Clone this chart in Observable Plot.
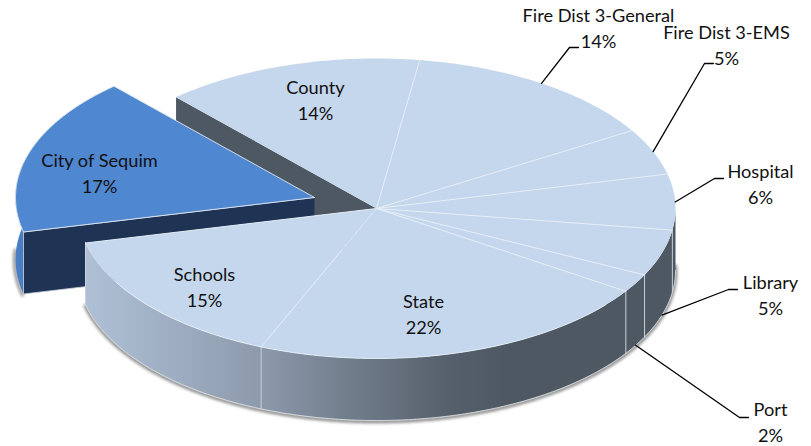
<!DOCTYPE html>
<html>
<head>
<meta charset="utf-8">
<script src="https://cdn.jsdelivr.net/npm/d3@7"></script>
<script src="https://cdn.jsdelivr.net/npm/@observablehq/plot@0.6"></script>
<style>html,body{margin:0;padding:0;background:#fff}svg{display:block}</style>
</head>
<body>
<div id="chart"></div>
<script>
// Property tax distribution, clockwise from the exploded City of Sequim slice.
const sliceNames = ["City of Sequim", "County", "Fire Dist 3-General", "Fire Dist 3-EMS", "Hospital", "Library", "Port", "State", "Schools"];
const sliceShares = [17, 14, 14, 5, 6, 5, 2, 22, 15];

// Tilted-disc layout of the pie.
const disc = {cx: 376, cy: 208, rx: 299, ry: 150, depth: 62, firstAngle: 256.7, pullX: -62, pullY: -11};

// Label centres; callouts also give the end of the leader's horizontal stub.
const insideLabels = {
  "City of Sequim": [99, 171.5], "County": [315, 98], "Schools": [204, 285], "State": [423, 312]
};
const calloutLabels = {
  "Fire Dist 3-General": {at: [598, 26], stub: [578, 47], onWall: false},
  "Fire Dist 3-EMS": {at: [726, 43.5], stub: [713, 63], onWall: false},
  "Hospital": {at: [760, 182.5], stub: [723, 178], onWall: false},
  "Library": {at: [770, 293.5], stub: [737, 289], onWall: true},
  "Port": {at: [770, 420.5], stub: [748, 417], onWall: true}
};

const colors = {top: "#c4d7ed", pulled: "#5087d1", navy: "#1f3454", slate: "#4e5862", seam: "#e6edf6", wallSeam: "#c9d1da"};

const rad = (d) => (d * Math.PI) / 180;
const rim = (deg, drop = 0, dx = 0, dy = 0) => ({
  x: disc.cx + dx + disc.rx * Math.sin(rad(deg)),
  y: disc.cy + dy + drop - disc.ry * Math.cos(rad(deg))
});
const arc = (a, b, drop = 0, dx = 0, dy = 0) => {
  const n = Math.max(1, Math.ceil(Math.abs(b - a) * 2));
  return d3.range(n + 1).map((i) => rim(a + ((b - a) * i) / n, drop, dx, dy));
};

// Angular extent of each slice, accumulated from its share.
let running = disc.firstAngle;
const slices = sliceNames.map((name, i) => {
  const start = running;
  running += (sliceShares[i] / 100) * 360;
  return {name, share: sliceShares[i], start, end: running, mid: (start + running) / 2};
});
const byName = Object.fromEntries(slices.map((s) => [s.name, s]));
const city = byName["City of Sequim"];
const county = byName["County"];
const mainSlices = slices.filter((s) => s !== city);
const centre = {x: disc.cx, y: disc.cy};
const pulled = {x: disc.cx + disc.pullX, y: disc.cy + disc.pullY};
const frontEdge = disc.firstAngle;

const wedge = (s, dx = 0, dy = 0) => [{x: disc.cx + dx, y: disc.cy + dy}, ...arc(s.start, s.end, 0, dx, dy)];
const band = (a, b, dx = 0, dy = 0) => [...arc(a, b, 0, dx, dy), ...arc(b, a, disc.depth, dx, dy)];
const down = (p) => ({x: p.x, y: p.y + disc.depth});

const poly = (points, options) => Plot.line(points, {x: "x", y: "y", ...options});

// Horizontal shading across the front wall of the disc.
const wallGradient = () => {
  const defs = d3.create("svg:defs");
  const g = defs.append("linearGradient").attr("id", "wallShade")
    .attr("gradientUnits", "userSpaceOnUse")
    .attr("x1", disc.cx - disc.rx).attr("x2", disc.cx + disc.rx).attr("y1", 0).attr("y2", 0);
  [[0, "#b1c1d7"], [0.1, "#a5b5ca"], [0.3, "#8e9bad"], [0.45, "#737e8d"], [0.62, "#56606c"], [0.72, "#4e5862"], [1, colors.slate]]
    .forEach(([o, c]) => g.append("stop").attr("offset", o).attr("stop-color", c));
  return defs.node();
};

const marks = [
  wallGradient,
  // soft ground shadow hugging the lower rims
  poly(arc(88, frontEdge, disc.depth + 1), {stroke: "#5f5f5f", strokeWidth: 3.5, strokeOpacity: 0.75, imageFilter: "blur(1.5px)"}),
  poly(arc(frontEdge, 274, disc.depth + 1, disc.pullX - 1, disc.pullY), {stroke: "#5f5f5f", strokeWidth: 3, strokeOpacity: 0.7, imageFilter: "blur(1.5px)"}),
  // cut face of the County slice, exposed by the pulled-out wedge
  poly([centre, rim(county.start), down(rim(county.start)), down(centre)], {fill: colors.slate}),
  // pulled-out wedge: outer wall, front cut face, top
  poly(band(city.start, 285, disc.pullX, disc.pullY), {fill: "#4a7ec4"}),
  poly([pulled, rim(city.start, 0, disc.pullX, disc.pullY), rim(city.start, disc.depth, disc.pullX, disc.pullY), down(pulled)], {fill: colors.navy, stroke: colors.wallSeam, strokeWidth: 0.8}),
  poly([...wedge(city, disc.pullX, disc.pullY), pulled], {fill: colors.pulled, stroke: "#dfe8f3", strokeWidth: 0.9}),
  // main disc wall and its seams
  poly(band(90, frontEdge), {fill: "url(#wallShade)"}),
  poly(arc(90, frontEdge, disc.depth), {stroke: "#e4e8ec", strokeWidth: 0.8}),
  ...mainSlices
    .map((s) => s.end % 360)
    .filter((a) => a > 90 && a < frontEdge)
    .map((a) => poly([rim(a), rim(a, disc.depth)], {stroke: colors.wallSeam, strokeWidth: 1})),
  poly([rim(frontEdge), rim(frontEdge, disc.depth)], {stroke: colors.wallSeam, strokeWidth: 0.8}),
  // top faces
  ...mainSlices.map((s) => poly(wedge(s), {fill: colors.top})),
  ...mainSlices.map((s) => poly([centre, rim(s.end)], {stroke: colors.seam, strokeWidth: 1})),
  poly(arc(130, frontEdge), {stroke: "#eef3f9", strokeWidth: 0.8}),
  // callout leaders, starting at the middle of each slice's outer edge
  ...Object.entries(calloutLabels).map(([name, c]) => {
    const anchor = rim(byName[name].mid, c.onWall ? disc.depth : 0);
    const stubEnd = {x: c.stub[0], y: c.stub[1]};
    return poly([anchor, {x: c.stub[0] - 9, y: c.stub[1]}, stubEnd], {stroke: "#000", strokeWidth: 1.3});
  }),
  Plot.text(
    slices.map((s) => {
      const [x, y] = insideLabels[s.name] ?? calloutLabels[s.name].at;
      return {x, y, text: `${s.name}\n${s.share}%`};
    }),
    {x: "x", y: "y", text: "text", fontSize: 18.2, lineHeight: 1.42, fontFamily: "Lato", fill: "#111", textAnchor: "middle"}
  )
];

const chart = Plot.plot({
  width: 811, height: 446,
  margin: 0,
  x: {domain: [0, 811], range: [0, 811], axis: null},
  y: {domain: [0, 446], range: [0, 446], axis: null},
  style: {background: "#fff"},
  marks
});
document.getElementById("chart").append(chart);
</script>
</body>
</html>
